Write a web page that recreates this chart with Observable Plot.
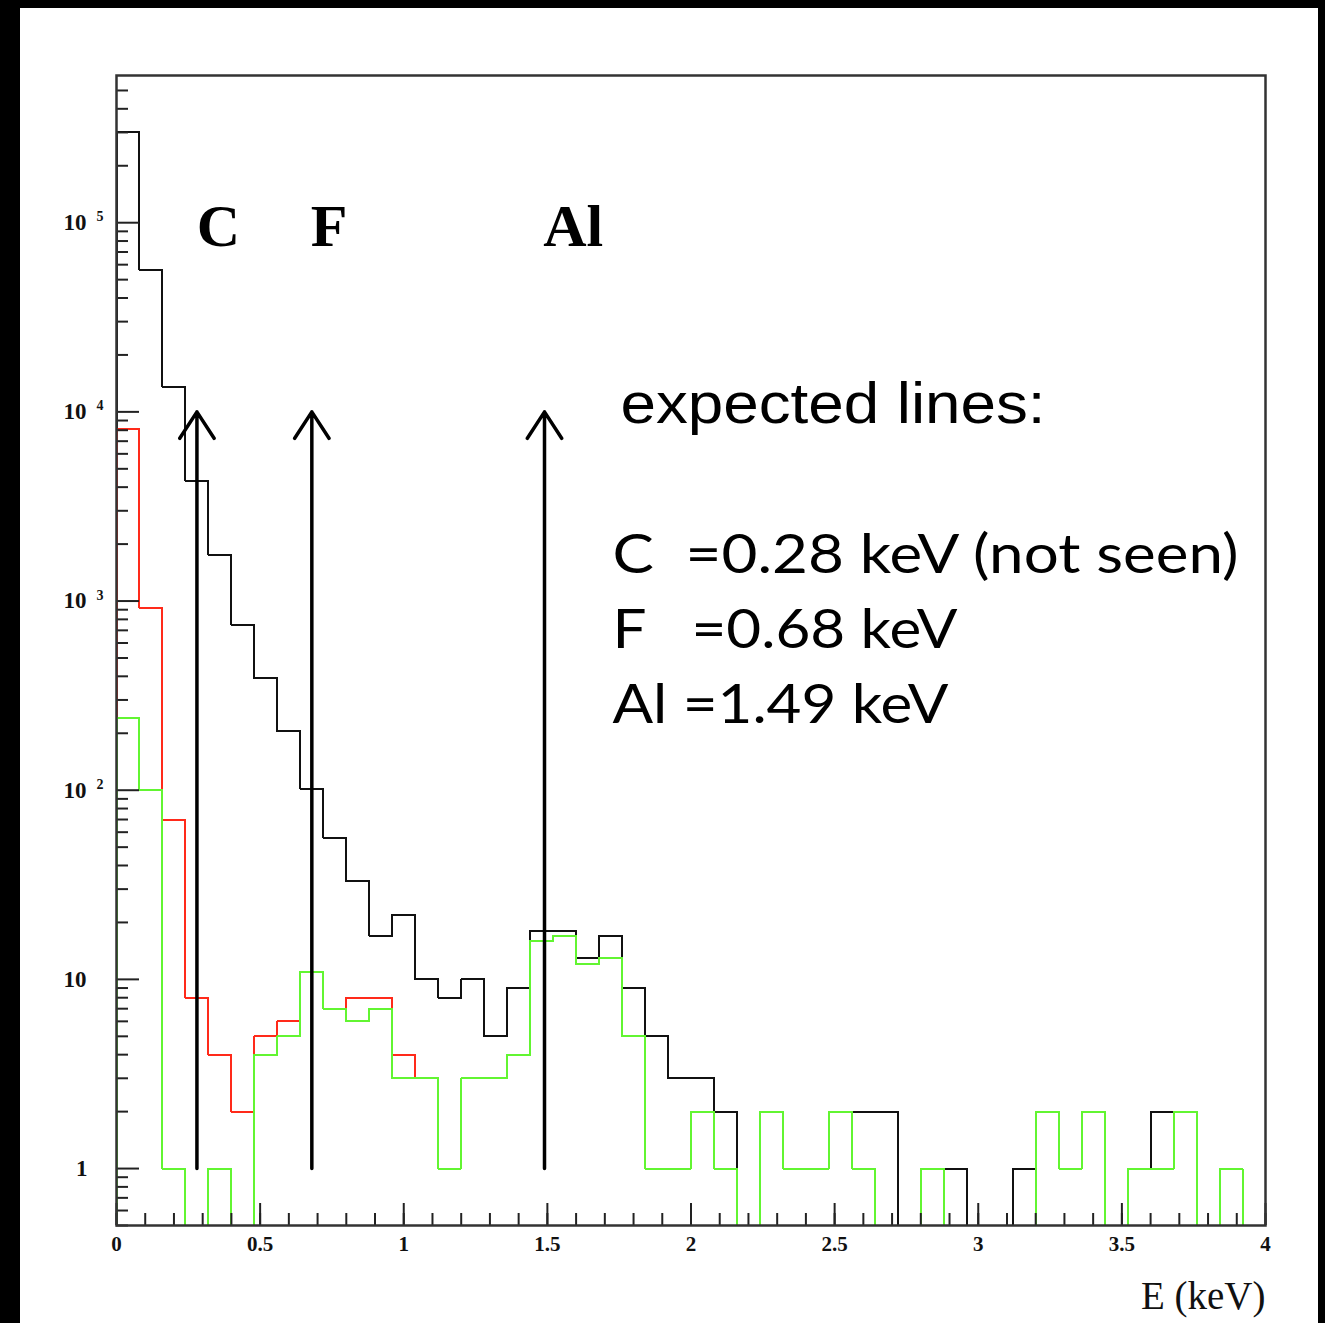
<!DOCTYPE html>
<html><head><meta charset="utf-8">
<script src="https://cdn.jsdelivr.net/npm/d3@7"></script>
<script src="https://cdn.jsdelivr.net/npm/@observablehq/plot@0.6"></script>
<style>
html,body{margin:0;padding:0;background:#000;width:1325px;height:1323px;overflow:hidden;}
#panel{position:absolute;left:20px;top:8px;width:1298px;height:1315px;background:#fff;}
#chart{position:absolute;left:0;top:0;}
#chart svg{background:transparent !important;max-width:none !important;}
</style></head><body>
<div id="panel"></div><div id="chart"></div>
<script>
// ---- data ----
const binWidth = 0.08;
const binLow = d3.range(50).map(i => Math.round(i * 8) / 100);
const countsBlack = [300000, 56000, 13500, 4300, 1750, 750, 390, 205, 102, 56,
  33, 17, 22, 10, 8, 10, 5, 9, 18, 18,
  13, 17, 9, 5, 3, 3, 2, 0, 2, 1,
  1, 2, 2, 2, 0, 1, 1, 0, 0, 1,
  2, 1, 2, 0, 1, 2, 2, 0, 1, 0];
const countsRed = [8100, 920, 70, 8, 4, 2, 5, 6, 11, 7,
  8, 8, 4, 3, 1, 3, 3, 4, 16, 17,
  12, 13, 5, 1, 1, 2, 1, 0, 2, 1,
  1, 2, 1, 0, 0, 1, 0, 0, 0, 0,
  2, 1, 2, 0, 1, 1, 2, 0, 1, 0];
const countsGreen = [240, 100, 1, 0, 1, 0, 4, 5, 11, 7,
  6, 7, 3, 3, 1, 3, 3, 4, 16, 17,
  12, 13, 5, 1, 1, 2, 1, 0, 2, 1,
  1, 2, 1, 0, 0, 1, 0, 0, 0, 0,
  2, 1, 2, 0, 1, 1, 2, 0, 1, 0];
const lineNames = ["C", "F", "Al"];
const lineEnergy = [0.28, 0.68, 1.49];
const arrowFrom = 1, arrowTo = 1e4;
const labelX = [0.355, 0.74, 1.59];
const labelY = 7.5e4;
const yMajor = [1, 10, 100, 1e3, 1e4, 1e5];
const yTickBase = ["1", "10", "10", "10", "10", "10"];
const yTickExp = ["", "", "2", "3", "4", "5"];
const xMajor = [0, 0.5, 1, 1.5, 2, 2.5, 3, 3.5, 4];
const xTickLabels = ["0", "0.5", "1", "1.5", "2", "2.5", "3", "3.5", "4"];
const xTitle = "E (keV)";
const noteTitle = "expected lines:";
const noteLines = ["C\u00a0\u00a0=0.28 keV (not seen)", "F\u00a0\u00a0\u00a0=0.68 keV", "Al =1.49 keV"];

// ---- helpers ----
const yDomain = [0.5, 6e5];
const xDomain = [0, 4];
const floorVal = 0.3;
function steps(counts, series) {
  const pts = [{x: 0, y: floorVal, s: series}];
  counts.forEach((c, i) => {
    const v = c > 0 ? c : floorVal;
    pts.push({x: binLow[i], y: v, s: series}, {x: binLow[i] + binWidth, y: v, s: series});
  });
  pts.push({x: 4, y: floorVal, s: series});
  return pts;
}
const yMinor = [];
[0.1, 1, 10, 100, 1e3, 1e4, 1e5].forEach(d => { for (let m = 2; m <= 9; m++) { const v = d * m; if (v >= yDomain[0] && v < yDomain[1]) yMinor.push(v); } });
const xMinor = d3.range(0, 41).map(i => i / 10);

const serif = "Liberation Serif, Times New Roman, serif";
const tickFont = {fontFamily: serif, fontWeight: "bold", fill: "#111"};
const noteDy = [497, 572, 647];
const noteWidth = [626, 345, 336];
const crisp = {shapeRendering: "crispEdges"};

const chart = Plot.plot({
  width: 1325, height: 1323,
  marginLeft: 116, marginRight: 60, marginTop: 75, marginBottom: 98,
  style: {background: "transparent", overflow: "visible"},
  x: {domain: xDomain},
  y: {type: "log", domain: yDomain},
  marks: [
    Plot.line(steps(countsBlack, "all"), {x: "x", y: "y", stroke: "#111", strokeWidth: 2, clip: true, ...crisp}),
    Plot.line(steps(countsRed, "red"), {x: "x", y: "y", stroke: "#ff2a1a", strokeWidth: 2, clip: true, ...crisp}),
    Plot.line(steps(countsGreen, "green"), {x: "x", y: "y", stroke: "#62f531", strokeWidth: 2, clip: true, ...crisp}),
    Plot.arrow(lineEnergy, {x1: d => d, x2: d => d, y1: () => arrowFrom, y2: () => arrowTo,
      stroke: "#000", strokeWidth: 3.5, headLength: 13.5, headAngle: 66}),
    Plot.text(lineNames, {x: (d, i) => labelX[i], y: () => labelY, text: d => d,
      fontFamily: serif, fontWeight: "bold", fontSize: 60, fill: "#000", lineAnchor: "bottom", textAnchor: "middle"}),
    // y axis ticks (inside)
    Plot.axisY(yMajor, {anchor: "left", tickSize: -23, tickFormat: () => "", label: null, stroke: "#222", strokeWidth: 2}),
    Plot.axisY(yMinor, {anchor: "left", tickSize: -12, tickFormat: () => "", label: null, stroke: "#222", strokeWidth: 2}),
    // x axis ticks (inside)
    Plot.axisX(xMajor, {anchor: "bottom", tickSize: -22, tickFormat: () => "", label: null, stroke: "#222", strokeWidth: 2}),
    Plot.axisX(xMinor, {anchor: "bottom", tickSize: -12, tickFormat: () => "", label: null, stroke: "#222", strokeWidth: 2}),
    // y tick labels
    Plot.text(yMajor.filter((d, i) => yTickBase[i] === "1"), {y: d => d, text: d => yTickBase[yMajor.indexOf(d)],
      frameAnchor: "left", textAnchor: "end", dx: -29, ...tickFont, fontSize: 23}),
    Plot.text(yMajor.filter((d, i) => yTickBase[i] === "10"), {y: d => d, text: d => yTickBase[yMajor.indexOf(d)],
      frameAnchor: "left", textAnchor: "start", dx: -53, ...tickFont, fontSize: 23}),
    Plot.text(yMajor.filter((d, i) => yTickExp[i] !== ""), {y: d => d, text: d => yTickExp[yMajor.indexOf(d)],
      frameAnchor: "left", textAnchor: "start", dx: -20, dy: -6, ...tickFont, fontSize: 14}),
    // x tick labels
    Plot.text(xMajor, {x: d => d, text: d => xTickLabels[xMajor.indexOf(d)], frameAnchor: "bottom", dy: 25, ...tickFont, fontSize: 21}),
    // x title
    Plot.text([xTitle], {text: d => d, frameAnchor: "bottom-right", textAnchor: "end", lineAnchor: "bottom", dy: 83,
      fontFamily: serif, fontSize: 39, fill: "#111"}),
    // annotation block
    Plot.text([noteTitle], {text: d => d, frameAnchor: "top-left", textAnchor: "start", lineAnchor: "bottom",
      dx: 504, dy: 347, fontFamily: "Liberation Sans, Arial, sans-serif", fontSize: 57, fill: "#000", className: "note-title"}),
    ...noteLines.map((t, i) => Plot.text([t], {text: d => d, frameAnchor: "top-left", textAnchor: "start", lineAnchor: "bottom",
      dx: 496, dy: noteDy[i], fontFamily: "Lato, sans-serif", fontSize: 54, fill: "#000", className: "note-line-" + i})),
    Plot.frame({stroke: "#333", strokeWidth: 2.5})
  ]
});
document.getElementById("chart").appendChild(chart);
// stretch annotation text horizontally to the widths seen in the original
d3.select(chart).selectAll(".note-title text").attr("textLength", 425).attr("lengthAdjust", "spacingAndGlyphs");
noteLines.forEach((t, i) => d3.select(chart).selectAll(".note-line-" + i + " text").attr("textLength", noteWidth[i]).attr("lengthAdjust", "spacingAndGlyphs"));
</script>
</body></html>
